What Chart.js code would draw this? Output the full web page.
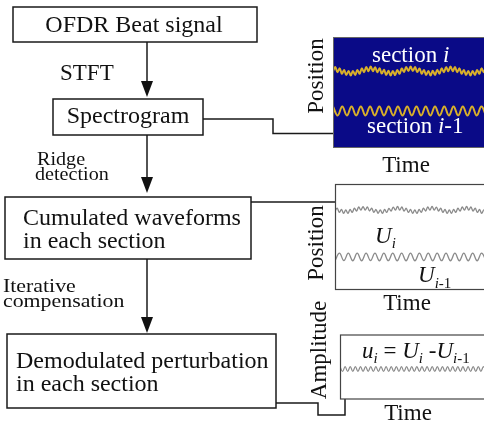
<!DOCTYPE html>
<html>
<head>
<meta charset="utf-8">
<script src="https://cdn.jsdelivr.net/npm/chart.js@4/dist/chart.umd.min.js"></script>
<style>
  html, body { margin: 0; padding: 0; background: #fff; }
  #stage { position: relative; width: 484px; height: 424px; overflow: hidden; background: #fff; }
  canvas.wave { position: absolute; }
  #c1 { left: 333px; top: 37px; background: #0a0a87; }
  #c2 { left: 335px; top: 184px; }
  #c3 { left: 340px; top: 335px; }
  svg { position: absolute; left: 0; top: 0; }
  text { font-family: "Liberation Serif", "Times New Roman", serif; fill: #111; }
</style>
</head>
<body>
<div id="stage">
  <canvas id="c1" class="wave" width="153" height="111"></canvas>
  <canvas id="c2" class="wave" width="151" height="106"></canvas>
  <canvas id="c3" class="wave" width="146" height="64"></canvas>

  <svg width="484" height="424" viewBox="0 0 484 424">
    <g fill="none" stroke="#1a1a1a" stroke-width="1.5">
      <!-- flow boxes -->
      <rect x="13" y="7" width="244" height="35"/>
      <rect x="53" y="99" width="150" height="36"/>
      <rect x="5" y="197" width="246" height="62"/>
      <rect x="7" y="334" width="269" height="74"/>
      <!-- main arrows -->
      <line x1="147" y1="42" x2="147" y2="84"/>
      <line x1="147" y1="135" x2="147" y2="180"/>
      <line x1="147" y1="259" x2="147" y2="320"/>
      <!-- connectors to the plot panels -->
      <polyline points="203,119 273,119 273,133.5 333,133.5"/>
      <line x1="251" y1="202" x2="335" y2="202"/>
      <polyline points="276,403 318,403 318,415 345,415 345,399"/>
    </g>
    <g fill="#111">
      <polygon points="141,81 153,81 147,97"/>
      <polygon points="141,177 153,177 147,193"/>
      <polygon points="141,317 153,317 147,333"/>
    </g>
    <!-- panel frames -->
    <rect x="333.5" y="37.5" width="160" height="110" fill="none" stroke="#666" stroke-width="1"/>
    <rect x="335.5" y="184.5" width="160" height="105" fill="none" stroke="#444" stroke-width="1.2"/>
    <rect x="340.5" y="335" width="160" height="64" fill="none" stroke="#444" stroke-width="1.2"/>

    <!-- flow text -->
    <g font-size="24">
      <text x="134" y="32" text-anchor="middle">OFDR Beat signal</text>
      <text x="128" y="123" text-anchor="middle">Spectrogram</text>
      <text x="23" y="225">Cumulated waveforms</text>
      <text x="23" y="248">in each section</text>
      <text x="16" y="368">Demodulated perturbation</text>
      <text x="16" y="391">in each section</text>
    </g>
    <text x="60" y="80" font-size="23">STFT</text>
    <g font-size="19">
      <text transform="translate(37,165) scale(1.06,1)">Ridge</text>
      <text transform="translate(35,180) scale(1.06,1)">detection</text>
    </g>
    <g font-size="19">
      <text transform="translate(3,292) scale(1.15,1)">Iterative</text>
      <text transform="translate(3,307) scale(1.15,1)">compensation</text>
    </g>

    <!-- panel 1: spectrogram -->
    <g font-size="23">
      <text transform="translate(323,76) rotate(-90)" text-anchor="middle">Position</text>
      <text x="372" y="62" style="fill:#fff">section <tspan font-style="italic">i</tspan></text>
      <text x="367" y="133" style="fill:#fff">section  <tspan font-style="italic">i</tspan>-1</text>
      <text x="406" y="172" text-anchor="middle">Time</text>
    </g>
    <!-- panel 2: cumulated waveforms -->
    <g font-size="23">
      <text transform="translate(323,243) rotate(-90)" text-anchor="middle">Position</text>
      <text x="375" y="243" font-style="italic">U<tspan font-size="15" dy="5">i</tspan></text>
      <text x="418" y="282" font-style="italic">U<tspan font-size="15" dy="6">i</tspan><tspan font-size="15" font-style="normal">-1</tspan></text>
      <text x="407" y="310" text-anchor="middle">Time</text>
    </g>
    <!-- panel 3: demodulated perturbation -->
    <g font-size="23">
      <text transform="translate(326,350) rotate(-90)" text-anchor="middle">Amplitude</text>
      <text x="362" y="358"><tspan font-style="italic">u</tspan><tspan font-size="15" font-style="italic" dy="5">i</tspan><tspan dy="-5"> = </tspan><tspan font-style="italic">U</tspan><tspan font-size="15" font-style="italic" dy="5">i</tspan><tspan dy="-5"> -</tspan><tspan font-style="italic">U</tspan><tspan font-size="15" font-style="italic" dy="5">i</tspan><tspan font-size="15">-1</tspan></text>
      <text x="408" y="420" text-anchor="middle">Time</text>
    </g>
  </svg>
</div>

<script>
// Ridge traced in section i: fast ripple riding on a slow swing (peak/trough samples)
const sectionI = [
  -0.03, 0.88, -0.25, 0.59, -0.59, 0.25, -0.88, 0.03, -1.00, 0.03, -0.88, 0.25, -0.59, 0.59, -0.25, 0.88, -0.03,
  1.00, -0.05, 0.86, -0.27, 0.61, -0.57, 0.27, -0.86, 0.05, -0.98, 0.01, -0.90, 0.23, -0.61, 0.57, -0.23, 0.90, -0.01,
  0.98, -0.02, 0.89, -0.24, 0.58, -0.60, 0.24, -0.89, 0.02, -1.00, 0.04, -0.87, 0.26, -0.58, 0.60, -0.26, 0.87, -0.04,
  1.00, -0.03, 0.88, -0.25, 0.59, -0.59, 0.25, -0.88, 0.03, -0.99, 0.03, -0.88, 0.25, -0.59, 0.59, -0.25, 0.88
];
// Ridge traced in section i-1: clean periodic perturbation
const sectionIm1 = [
  1.00, -1.00, 0.98, -1.00, 1.00, -0.98, 1.00, -1.00, 0.99, -1.00, 1.00, -1.00,
  0.98, -0.99, 1.00, -1.00, 1.00, -0.98, 1.00, -1.00, 0.99, -1.00, 1.00, -1.00,
  0.98, -1.00, 1.00, -0.99, 1.00, -1.00, 1.00, -1.00, 0.99, -1.00
];
// Cumulated waveform U_i
const cumUi = [
  -0.31, 0.50, -0.69, 0.15, -0.96, 0.00, -0.96, 0.15, -0.69, 0.50, -0.31, 0.85, -0.04,
  0.98, -0.06, 0.87, -0.29, 0.52, -0.67, 0.13, -0.94, 0.02, -0.97, 0.16, -0.70, 0.48, -0.33, 0.84, -0.02,
  1.00, -0.03, 0.85, -0.32, 0.49, -0.70, 0.16, -0.95, -0.01, -0.96, 0.14, -0.68, 0.51, -0.30, 0.86, -0.05,
  0.99, -0.04, 0.84, -0.31, 0.50, -0.69, 0.15, -0.97, 0.00, -0.95, 0.15, -0.69, 0.50, -0.32, 0.85, -0.03,
  1.00, -0.05, 0.86, -0.30, 0.50, -0.70, 0.15, -0.96, 0.01, -0.96
];
// Cumulated waveform U_{i-1}
const cumUim1 = [
  -1.00, 1.00, -0.98, 1.00, -1.00, 0.99, -1.00, 1.00, -0.98, 1.00, -1.00, 1.00,
  -0.99, 0.98, -1.00, 1.00, -1.00, 0.99, -1.00, 1.00, -0.98, 1.00, -1.00, 1.00,
  -0.99, 1.00, -1.00, 0.98, -1.00, 1.00, -1.00, 0.99, -1.00, 1.00, -1.00
];
// Demodulated perturbation u_i = U_i - U_{i-1}
const demodUi = [
  1.00, -1.00, 0.97, -1.00, 1.00, -0.98, 1.00, -1.00, 0.99, -1.00, 1.00, -0.97,
  1.00, -1.00, 0.98, -1.00, 1.00, -1.00, 0.97, -1.00, 1.00, -0.99, 1.00, -1.00,
  0.98, -1.00, 1.00, -0.98, 1.00, -1.00, 0.99, -1.00, 1.00, -1.00, 0.97, -1.00,
  1.00, -0.98, 1.00, -1.00, 0.99, -1.00, 1.00, -1.00, 0.98, -1.00, 1.00, -0.97,
  1.00, -1.00, 0.98, -1.00, 1.00, -1.00, 0.99, -1.00, 1.00, -0.98
];

// Each trace gets its own hidden x/y axis pair so it can sit at its own height in a panel.
function wavePanel(canvasId, traces) {
  const scales = {};
  const datasets = traces.map((t, n) => {
    const xid = 'x' + n, yid = 'y' + n;
    scales[xid] = { type: 'linear', display: false, min: 0, max: t.values.length - 1 };
    scales[yid] = { type: 'linear', display: false, min: t.yMin, max: t.yMax };
    return {
      data: t.values.map((v, i) => ({ x: i, y: v })),
      xAxisID: xid,
      yAxisID: yid,
      borderColor: t.color,
      borderWidth: t.width,
      pointRadius: 0,
      tension: 0.4,
      fill: false
    };
  });
  return new Chart(document.getElementById(canvasId), {
    type: 'line',
    data: { datasets },
    options: {
      responsive: false,
      animation: false,
      devicePixelRatio: 1,
      events: [],
      layout: { padding: 0 },
      plugins: { legend: { display: false }, tooltip: { enabled: false } },
      scales
    }
  });
}

const gold = '#d9b02a';
const grey = '#8a8a8a';

wavePanel('c1', [
  { values: sectionI,   yMin: -17.1, yMax: 7.56, color: gold, width: 2 },
  { values: sectionIm1, yMin: -8.2,  yMax: 16.4, color: gold, width: 2 }
]);
wavePanel('c2', [
  { values: cumUi,   yMin: -22.9, yMax: 7.43, color: grey, width: 1.3 },
  { values: cumUim1, yMin: -8.7,  yMax: 19.2, color: grey, width: 1.3 }
]);
wavePanel('c3', [
  { values: demodUi, yMin: -12.5, yMax: 14.2, color: grey, width: 1.2 }
]);
</script>
</body>
</html>
